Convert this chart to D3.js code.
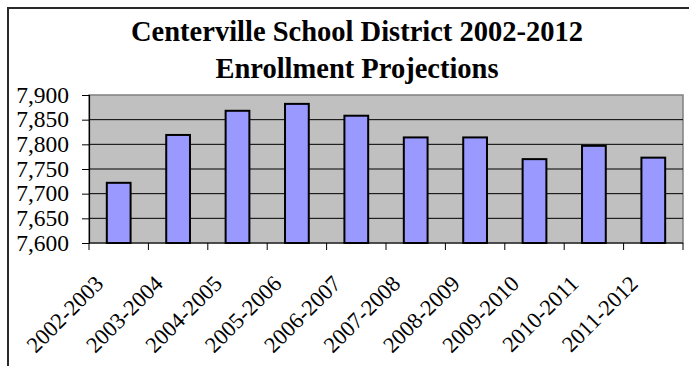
<!DOCTYPE html>
<html>
<head>
<meta charset="utf-8">
<script src="https://cdn.jsdelivr.net/npm/d3@7"></script>
</head>
<body style="margin:0">
<svg id="chart" width="689" height="366"></svg>
<script>
// Chart data
const years = ["2002-2003", "2003-2004", "2004-2005", "2005-2006", "2006-2007",
               "2007-2008", "2008-2009", "2009-2010", "2010-2011", "2011-2012"];
const enrollment = [7722, 7819, 7868, 7882, 7858, 7814, 7814, 7770, 7797, 7773];
const yTicks = [7600, 7650, 7700, 7750, 7800, 7850, 7900];
const titleLines = ["Centerville School District 2002-2012", "Enrollment Projections"];

const data = years.map((y, i) => ({ year: y, value: enrollment[i] }));

const plot = { left: 89, right: 683, top: 95, bottom: 243 };
const serifFont = "'Liberation Serif', 'Times New Roman', serif";

const svg = d3.select("#chart");

// Outer chart frame (runs off the right/bottom edges)
svg.append("rect")
  .attr("x", 8).attr("y", 8)
  .attr("width", 720).attr("height", 420)
  .attr("fill", "#fff")
  .attr("stroke", "#2a2a2a")
  .attr("stroke-width", 2);

/*************/
/*  Title    */
/*************/
svg.selectAll(".title")
  .data(titleLines)
  .join("text")
    .attr("class", "title")
    .attr("x", 357)
    .attr("y", (_, i) => 41 + i * 37)
    .attr("text-anchor", "middle")
    .style("font-family", serifFont)
    .style("font-size", "28.5px")
    .style("font-weight", "bold")
    .text(d => d);

/*************/
/*  Scales   */
/*************/
const xScale = d3.scaleBand()
  .domain(years)
  .range([plot.left, plot.right])
  .paddingInner(0.6)
  .paddingOuter(0.3);

const yScale = d3.scaleLinear()
  .domain([7600, 7900])
  .range([plot.bottom, plot.top]);

// Plot background
svg.append("rect")
  .attr("x", plot.left).attr("y", plot.top)
  .attr("width", plot.right - plot.left)
  .attr("height", plot.bottom - plot.top)
  .attr("fill", "#c0c0c0")
  .attr("stroke", "#808080")
  .attr("stroke-width", 1.5);

// Gridlines
svg.append("g")
  .selectAll("line")
  .data(yTicks.filter(t => t > 7600 && t < 7900))
  .join("line")
    .attr("x1", plot.left).attr("x2", plot.right)
    .attr("y1", d => yScale(d)).attr("y2", d => yScale(d))
    .attr("stroke", "#000")
    .attr("stroke-width", 1);

// Bars
svg.append("g")
  .selectAll("rect")
  .data(data)
  .join("rect")
    .attr("x", d => xScale(d.year))
    .attr("y", d => yScale(d.value))
    .attr("width", xScale.bandwidth())
    .attr("height", d => yScale(7600) - yScale(d.value))
    .attr("fill", "#9999ff")
    .attr("stroke", "#000")
    .attr("stroke-width", 2);

/*************/
/*  Axes     */
/*************/
const yAxis = d3.axisLeft(yScale)
  .tickValues(yTicks)
  .tickFormat(d3.format(","))
  .tickSize(7)
  .tickPadding(13);

svg.append("g")
  .attr("transform", `translate(${plot.left},0)`)
  .call(yAxis)
  .call(g => g.select(".domain").attr("stroke", "#000").attr("stroke-width", 1.2))
  .call(g => g.selectAll("text")
    .style("font-family", serifFont)
    .style("font-size", "23.5px")
    .attr("dy", "0.3em"));

// x axis: ticks at the category boundaries
const step = xScale.step();
const boundaries = d3.range(years.length + 1).map(i => plot.left + i * step);

const xAxisG = svg.append("g");
xAxisG.append("line")
  .attr("x1", plot.left).attr("x2", plot.right)
  .attr("y1", plot.bottom).attr("y2", plot.bottom)
  .attr("stroke", "#000").attr("stroke-width", 1.2);
xAxisG.selectAll(".xtick")
  .data(boundaries)
  .join("line")
    .attr("class", "xtick")
    .attr("x1", d => d).attr("x2", d => d)
    .attr("y1", plot.bottom).attr("y2", plot.bottom + 7)
    .attr("stroke", "#000");

xAxisG.selectAll(".xlabel")
  .data(years)
  .join("text")
    .attr("class", "xlabel")
    .style("font-family", serifFont)
    .style("font-size", "22.5px")
    .attr("text-anchor", "end")
    .attr("transform", d => {
      const cx = xScale(d) + xScale.bandwidth() / 2 - 14;
      return `translate(${cx},${plot.bottom + 42}) rotate(-45)`;
    })
    .text(d => d);
</script>
</body>
</html>
